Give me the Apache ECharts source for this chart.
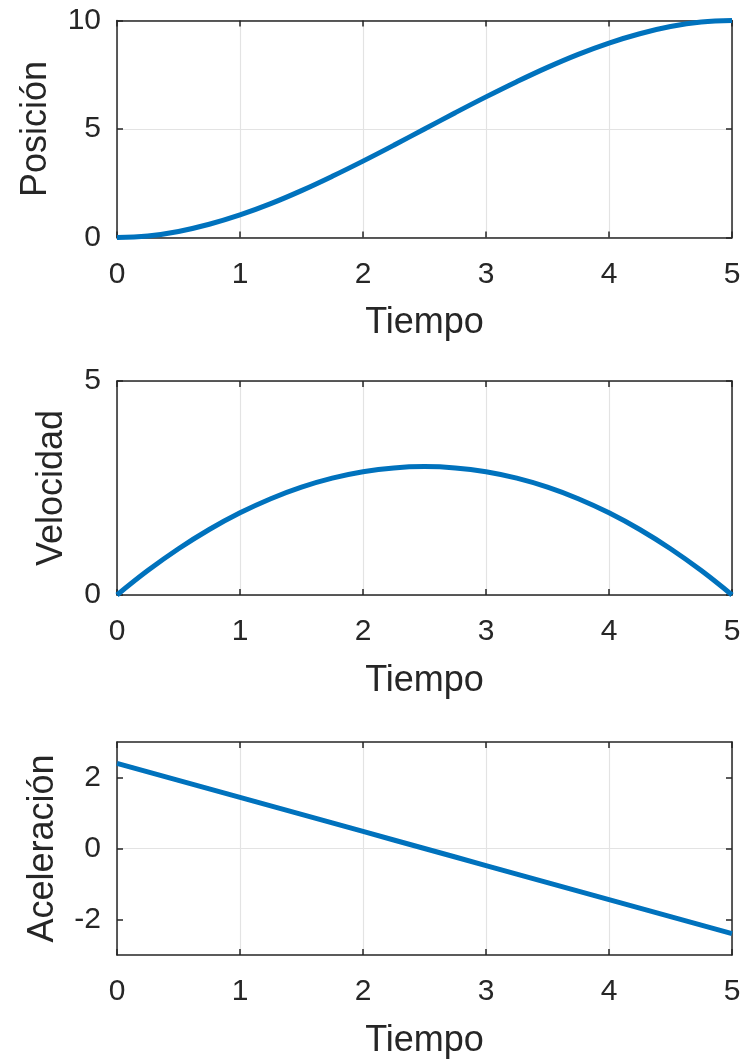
<!DOCTYPE html>
<html>
<head>
<meta charset="utf-8">
<script src="https://cdn.jsdelivr.net/npm/echarts@6/dist/echarts.min.js"></script>
<style>
  html, body { margin: 0; padding: 0; background: #fff; }
  #chart { width: 753px; height: 1060px; }
</style>
</head>
<body>
<div id="chart"></div>
<script>
// datos
const tiempo = [0, 0.25, 0.5, 0.75, 1, 1.25, 1.5, 1.75, 2, 2.25, 2.5, 2.75, 3, 3.25, 3.5, 3.75, 4, 4.25, 4.5, 4.75, 5];
const posicion = [0, 0.07, 0.28, 0.61, 1.04, 1.56, 2.16, 2.82, 3.52, 4.25, 5.0, 5.75, 6.48, 7.18, 7.84, 8.44, 8.96, 9.39, 9.72, 9.93, 10];
const velocidad = [0, 0.57, 1.08, 1.53, 1.92, 2.25, 2.52, 2.73, 2.88, 2.97, 3.0, 2.97, 2.88, 2.73, 2.52, 2.25, 1.92, 1.53, 1.08, 0.57, 0];
const aceleracion = [2.4, 2.16, 1.92, 1.68, 1.44, 1.2, 0.96, 0.72, 0.48, 0.24, 0, -0.24, -0.48, -0.72, -0.96, -1.2, -1.44, -1.68, -1.92, -2.16, -2.4];

const yNames = ['Posición', 'Velocidad', 'Aceleración'];
const yLimits = [[0, 10], [0, 5], [-3, 3]];
const yTicks = [[0, 5, 10], [0, 5], [-2, 0, 2]];

const FONT = '"Liberation Sans", Arial, sans-serif';
const TXT = '#262626';
const AXIS = '#262626';
const GRID = '#e3e3e3';
const BLUE = '#0072BD';

const chart = echarts.init(document.getElementById('chart'), null, { renderer: 'canvas' });

const grids = [
  { left: 117, right: 21, top: 20.5, height: 217 },
  { left: 117, right: 21, top: 381, height: 214 },
  { left: 117, right: 21, top: 742, height: 214 }
];
// separación del nombre del eje y (como en MATLAB depende del ancho de las etiquetas)
const yNameGaps = [63, 47, 56];

const xAxes = [];
const yAxes = [];
const series = [];
const values = [posicion, velocidad, aceleracion];
const boxLine = { show: true, onZero: false, lineStyle: { color: AXIS, width: 1.5 } };

grids.forEach((g, i) => {
  // eje x inferior con etiquetas
  xAxes.push({
    gridIndex: i, type: 'value', min: 0, max: 5, interval: 1, position: 'bottom',
    name: 'Tiempo', nameLocation: 'middle', nameGap: 68, nameMoveOverlap: false,
    nameTextStyle: { color: TXT, fontSize: 36, fontFamily: FONT },
    axisLine: boxLine,
    axisTick: { show: true, inside: true, length: 6, lineStyle: { color: AXIS, width: 1.5 } },
    axisLabel: { color: TXT, fontSize: 30, fontFamily: FONT, margin: 22 },
    splitLine: { show: true, lineStyle: { color: GRID, width: 1.2 } }
  });
  // eje x superior (caja)
  xAxes.push({
    gridIndex: i, type: 'value', min: 0, max: 5, interval: 1, position: 'top',
    axisLine: boxLine,
    axisTick: { show: true, inside: true, length: 6, lineStyle: { color: AXIS, width: 1.5 } },
    axisLabel: { show: false },
    splitLine: { show: false }
  });

  const lim = yLimits[i];
  const custom = i === 2;
  const yBase = {
    gridIndex: i, type: 'value', min: lim[0], max: lim[1],
    interval: custom ? 1 : 5
  };
  const tick = custom
    ? { show: true, inside: true, length: 6, customValues: yTicks[i], lineStyle: { color: AXIS, width: 1.5 } }
    : { show: true, inside: true, length: 6, lineStyle: { color: AXIS, width: 1.5 } };
  yAxes.push(Object.assign({}, yBase, {
    position: 'left',
    name: yNames[i], nameLocation: 'middle', nameGap: yNameGaps[i], nameMoveOverlap: false,
    nameTextStyle: { color: TXT, fontSize: 36, fontFamily: FONT },
    axisLine: boxLine,
    axisTick: tick,
    axisLabel: custom
      ? { color: TXT, fontSize: 30, fontFamily: FONT, margin: 16, customValues: yTicks[i] }
      : { color: TXT, fontSize: 30, fontFamily: FONT, margin: 16 },
    splitLine: { show: true, lineStyle: { color: custom ? ['rgba(0,0,0,0)', GRID] : GRID, width: 1.2 } }
  }));
  yAxes.push(Object.assign({}, yBase, {
    position: 'right',
    axisLine: boxLine,
    axisTick: tick,
    axisLabel: { show: false },
    splitLine: { show: false }
  }));

  series.push({
    type: 'line',
    xAxisIndex: i * 2,
    yAxisIndex: i * 2,
    data: tiempo.map((t, k) => [t, values[i][k]]),
    showSymbol: false,
    smooth: i === 2 ? false : 0.4,
    clip: false,
    lineStyle: { color: BLUE, width: 5 },
    z: 5
  });
});

chart.setOption({
  animation: false,
  backgroundColor: '#ffffff',
  grid: grids,
  xAxis: xAxes,
  yAxis: yAxes,
  series: series
});

window.addEventListener('resize', chart.resize);
</script>
</body>
</html>
